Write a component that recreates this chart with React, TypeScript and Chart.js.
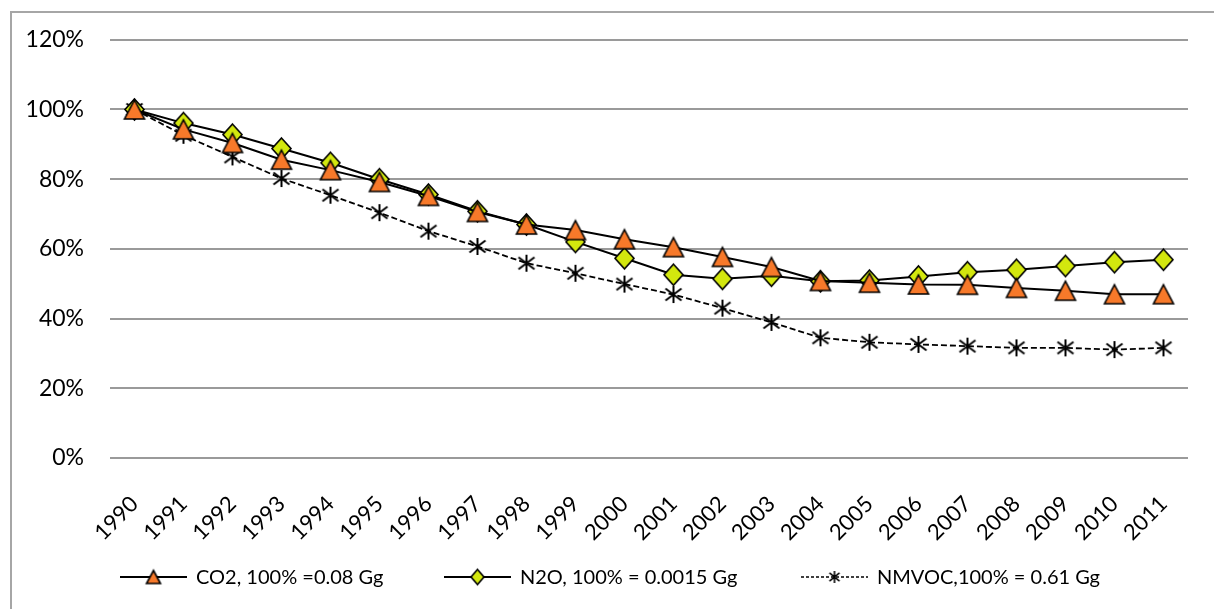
import React, { useEffect, useRef } from "react";
import { Chart, registerables } from "chart.js";

Chart.register(...registerables);

const years = [
  "1990", "1991", "1992", "1993", "1994", "1995", "1996", "1997", "1998", "1999", "2000",
  "2001", "2002", "2003", "2004", "2005", "2006", "2007", "2008", "2009", "2010", "2011",
];

const co2 = [
  100, 94.3, 90.4, 85.6, 82.6, 79.2, 75.2, 70.6, 67.0, 65.4, 62.8,
  60.5, 57.7, 54.8, 50.8, 50.3, 49.8, 49.7, 48.8, 48.0, 47.0, 47.0,
];

const n2o = [
  100, 96.1, 92.8, 88.8, 84.7, 80.0, 75.6, 70.8, 67.0, 62.0, 57.3,
  52.6, 51.4, 52.3, 50.7, 50.9, 52.1, 53.3, 54.0, 55.1, 56.2, 56.9,
];

const nmvoc = [
  100, 92.6, 86.4, 80.2, 75.4, 70.4, 65.1, 60.7, 55.9, 53.0, 49.9,
  46.9, 43.0, 38.9, 34.5, 33.2, 32.6, 32.1, 31.6, 31.6, 31.1, 31.6,
];

const yMin = 0;
const yMax = 120;
const yStep = 20;

const legendLabels = [
  "CO2, 100% =0.08 Gg",
  "N2O, 100% = 0.0015 Gg",
  "NMVOC,100% = 0.61 Gg",
];

const ORANGE = "#F7792A";
const LIME = "#D3E70E";
const FONT = "Lato, 'Open Sans', 'DejaVu Sans', sans-serif";

function makeMarker(kind: string, w: number, h: number, fill: string, lw = 1.6): HTMLCanvasElement {
  const pad = 3;
  const c = document.createElement("canvas");
  c.width = w + pad * 2;
  c.height = h + pad * 2;
  const ctx = c.getContext("2d")!;
  ctx.lineWidth = lw;
  ctx.strokeStyle = "#000";
  ctx.fillStyle = fill;
  ctx.lineJoin = "miter";
  const cx = c.width / 2;
  const cy = c.height / 2;
  if (kind === "triangle") {
    ctx.beginPath();
    ctx.moveTo(cx, pad);
    ctx.lineTo(pad + w, pad + h);
    ctx.lineTo(pad, pad + h);
    ctx.closePath();
    ctx.fill();
    ctx.stroke();
  } else if (kind === "diamond") {
    ctx.beginPath();
    ctx.moveTo(cx, pad);
    ctx.lineTo(pad + w, cy);
    ctx.lineTo(cx, pad + h);
    ctx.lineTo(pad, cy);
    ctx.closePath();
    ctx.fill();
    ctx.stroke();
  } else {
    ctx.beginPath();
    ctx.moveTo(cx, pad);
    ctx.lineTo(cx, pad + h);
    ctx.moveTo(pad, pad + h * 0.15);
    ctx.lineTo(pad + w, pad + h * 0.85);
    ctx.moveTo(pad + w, pad + h * 0.15);
    ctx.lineTo(pad, pad + h * 0.85);
    ctx.stroke();
  }
  return c;
}

export default function App() {
  const ref = useRef<HTMLCanvasElement | null>(null);

  useEffect(() => {
    if (!ref.current) return;

    const triBig = makeMarker("triangle", 20, 19, ORANGE);
    const diaBig = makeMarker("diamond", 19, 21, LIME);
    const starBig = makeMarker("star", 16, 17, "#000", 2);
    const triSmall = makeMarker("triangle", 14, 13, ORANGE);
    const diaSmall = makeMarker("diamond", 13, 15, LIME);
    const starSmall = makeMarker("star", 10, 12, "#000", 1.6);

    const legendItems = [
      { text: legendLabels[0], start: 120, marker: triSmall, dash: [] as number[] },
      { text: legendLabels[1], start: 444, marker: diaSmall, dash: [] as number[] },
      { text: legendLabels[2], start: 801, marker: starSmall, dash: [3, 2] },
    ];

    const frame = {
      id: "frame",
      beforeDraw(chart: any) {
        const ctx = chart.ctx;
        ctx.save();
        ctx.fillStyle = "#fff";
        ctx.fillRect(0, 0, chart.width, chart.height);
        ctx.strokeStyle = "#A6A6A6";
        ctx.lineWidth = 2;
        ctx.strokeRect(11, 12, chart.width + 20, chart.height + 20);
        ctx.restore();
      },
      afterDraw(chart: any) {
        const ctx = chart.ctx;
        ctx.save();
        const y = 577;
        ctx.font = `20px ${FONT}`;
        ctx.textBaseline = "middle";
        ctx.fillStyle = "#000";
        legendItems.forEach((it) => {
          ctx.strokeStyle = "#000";
          ctx.lineWidth = it.dash.length ? 1.5 : 2;
          ctx.setLineDash(it.dash);
          ctx.beginPath();
          ctx.moveTo(it.start, y);
          ctx.lineTo(it.start + 67, y);
          ctx.stroke();
          ctx.setLineDash([]);
          const m = it.marker;
          ctx.drawImage(m, it.start + 33.5 - m.width / 2, y - m.height / 2);
          ctx.fillText(it.text, it.start + 76, y + 1);
        });
        ctx.restore();
      },
    };

    const chart = new Chart(ref.current, {
      type: "line",
      data: {
        labels: years,
        datasets: [
          {
            label: legendLabels[0],
            data: co2,
            borderColor: "#000",
            borderWidth: 2,
            pointStyle: triBig as any,
            pointRadius: 10,
            tension: 0,
          },
          {
            label: legendLabels[1],
            data: n2o,
            borderColor: "#000",
            borderWidth: 2,
            pointStyle: diaBig as any,
            pointRadius: 10,
            tension: 0,
          },
          {
            label: legendLabels[2],
            data: nmvoc,
            borderColor: "#000",
            borderWidth: 1.8,
            borderDash: [6, 3],
            pointStyle: starBig as any,
            pointRadius: 9,
            tension: 0,
          },
        ],
      },
      options: {
        responsive: false,
        animation: false,
        devicePixelRatio: 1,
        layout: { padding: { top: 39, right: 26, bottom: 0, left: 0 } },
        plugins: {
          legend: { display: false },
          tooltip: { enabled: false },
        },
        scales: {
          x: {
            offset: true,
            grid: { display: false, drawTicks: false },
            border: { display: false },
            ticks: {
              minRotation: 45,
              maxRotation: 45,
              autoSkip: false,
              padding: 33,
              color: "#000",
              font: { family: FONT, size: 22 },
            },
            afterFit(scale: any) {
              scale.height = 151;
              scale.paddingLeft = 0;
              scale.paddingRight = 0;
            },
          },
          y: {
            min: yMin,
            max: yMax,
            grid: { color: "#9A9A9A", lineWidth: 2, drawTicks: false },
            border: { display: false },
            ticks: {
              stepSize: yStep,
              padding: 26,
              color: "#000",
              font: { family: FONT, size: 23 },
              callback: (v: any) => `${v}%`,
            },
            afterFit(scale: any) {
              scale.width = 110;
            },
          },
        },
      },
      plugins: [frame],
    });

    return () => chart.destroy();
  }, []);

  return (
    <div style={{ position: "absolute", left: 0, top: 0, width: 1214, height: 609, background: "#fff" }}>
      <canvas ref={ref} width={1214} height={609} style={{ width: 1214, height: 609, display: "block" }} />
    </div>
  );
}
